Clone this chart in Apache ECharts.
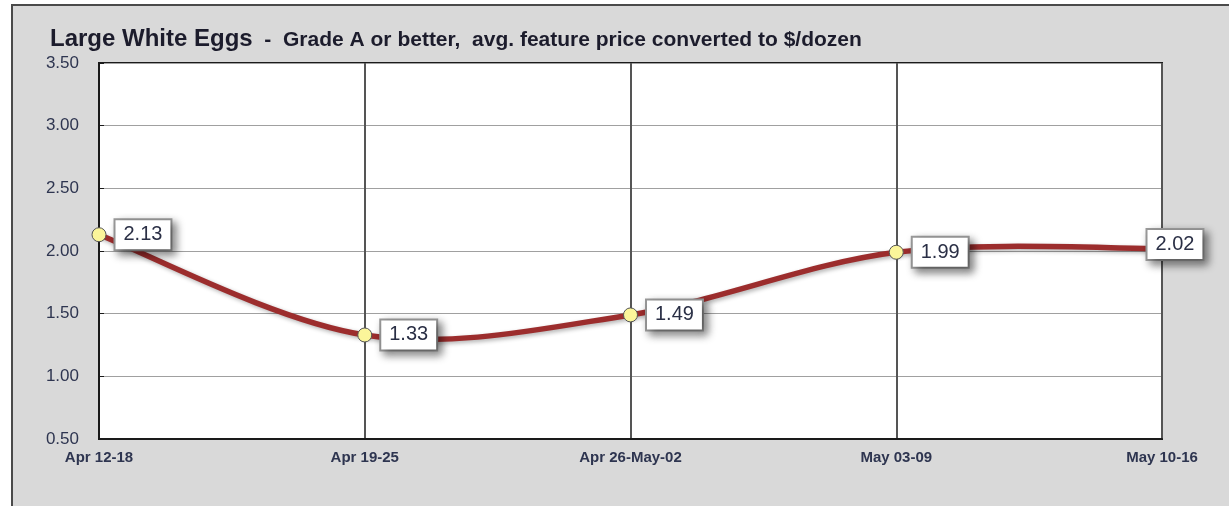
<!DOCTYPE html>
<html><head><meta charset="utf-8">
<script src="https://cdn.jsdelivr.net/npm/echarts@6/dist/echarts.min.js"></script>
<style>html,body{margin:0;padding:0;background:#fff}#c{width:1229px;height:506px}</style>
</head><body><div id="c"></div>
<script>
const categories = ['Apr 12-18', 'Apr 19-25', 'Apr 26-May-02', 'May 03-09', 'May 10-16'];
const prices = [2.13, 1.33, 1.49, 1.99, 2.02];
const yTicks = { min: 0.5, max: 3.5, interval: 0.5 };

const chart = echarts.init(document.getElementById('c'));
const data = prices.map((v, i) => {
  const d = { value: v };
  if (i === prices.length - 1) {
    d.label = { position: 'right', distance: -22, offset: [0, -4] };
  }
  return d;
});

// Excel-style smoothed curve (Catmull-Rom -> cubic Bezier) through the data, mapped via axis scales
function renderCurve(params, api) {
  const pts = prices.map((v, i) => api.coord([i, v]));
  const n = pts.length;
  const children = [];
  for (let i = 0; i < n - 1; i++) {
    const p0 = pts[Math.max(0, i - 1)], p1 = pts[i], p2 = pts[i + 1], p3 = pts[Math.min(n - 1, i + 2)];
    children.push({
      type: 'bezierCurve',
      shape: {
        x1: p1[0], y1: p1[1], x2: p2[0], y2: p2[1],
        cpx1: p1[0] + (p2[0] - p0[0]) / 6, cpy1: p1[1] + (p2[1] - p0[1]) / 6,
        cpx2: p2[0] - (p3[0] - p1[0]) / 6, cpy2: p2[1] - (p3[1] - p1[1]) / 6
      },
      style: {
        stroke: '#9c2d2d', lineWidth: 5.5, fill: null, lineCap: 'round',
        shadowColor: 'rgba(0,0,0,0.3)', shadowBlur: 4, shadowOffsetX: 2, shadowOffsetY: 2
      }
    });
  }
  return { type: 'group', children };
}

chart.setOption({
  animation: false,
  backgroundColor: '#ffffff',
  graphic: [{
    type: 'rect', z: -10, silent: true,
    shape: { x: 12, y: 5, width: 1240, height: 520 },
    style: { fill: '#d9d9d9', stroke: '#4a4a4a', lineWidth: 2 }
  }],
  title: {
    left: 45, top: 22,
    text: '{a|Large White Eggs}{b|  -  Grade A or better,  avg. feature price converted to $/dozen}',
    textStyle: {
      rich: {
        a: { fontFamily: 'Liberation Sans', fontWeight: 'bold', fontSize: 24, color: '#1c1c2c', verticalAlign: 'bottom' },
        b: { fontFamily: 'Liberation Sans', fontWeight: 'bold', fontSize: 21, color: '#1c1c2c', verticalAlign: 'bottom' }
      }
    }
  },
  grid: {
    left: 99, right: 67, top: 63, bottom: 67,
    show: true, backgroundColor: '#ffffff', borderColor: '#1a1a1a', borderWidth: 2
  },
  xAxis: {
    type: 'category', data: categories, boundaryGap: false,
    axisLine: { lineStyle: { color: '#1a1a1a', width: 2 } },
    axisTick: { show: false },
    axisLabel: { fontFamily: 'Liberation Sans', fontSize: 15, fontWeight: 'bold', color: '#2e3550', margin: 11 },
    splitLine: { show: true, lineStyle: { color: '#555555', width: 2 } }
  },
  yAxis: {
    type: 'value', min: yTicks.min, max: yTicks.max, interval: yTicks.interval,
    axisLine: { show: true, lineStyle: { color: '#1a1a1a', width: 2 } },
    axisTick: { show: true, inside: true, length: 5, lineStyle: { color: '#1a1a1a' } },
    axisLabel: {
      fontFamily: 'Liberation Sans', fontSize: 17, color: '#2e3550', margin: 20,
      formatter: v => v.toFixed(2)
    },
    splitLine: { show: true, lineStyle: { color: '#a0a0a0', width: 1 } }
  },
  series: [{
    type: 'custom', renderItem: renderCurve, data: [0], z: 3, silent: true
  }, {
    type: 'line', data: data,
    symbol: 'circle', symbolSize: 14,
    lineStyle: { width: 0, opacity: 0 },
    itemStyle: { color: '#fbf59a', borderColor: '#555', borderWidth: 1 },
    label: {
      show: true, position: 'right', distance: 9,
      formatter: p => p.value.toFixed(2),
      fontFamily: 'Liberation Sans', fontSize: 20, color: '#2a2f45',
      backgroundColor: '#ffffff', borderColor: '#999999', borderWidth: 2,
      padding: [5, 8, 4, 8],
      shadowColor: 'rgba(0,0,0,0.45)', shadowBlur: 8, shadowOffsetX: 4, shadowOffsetY: 4
    },
    z: 5
  }]
});
</script></body></html>
